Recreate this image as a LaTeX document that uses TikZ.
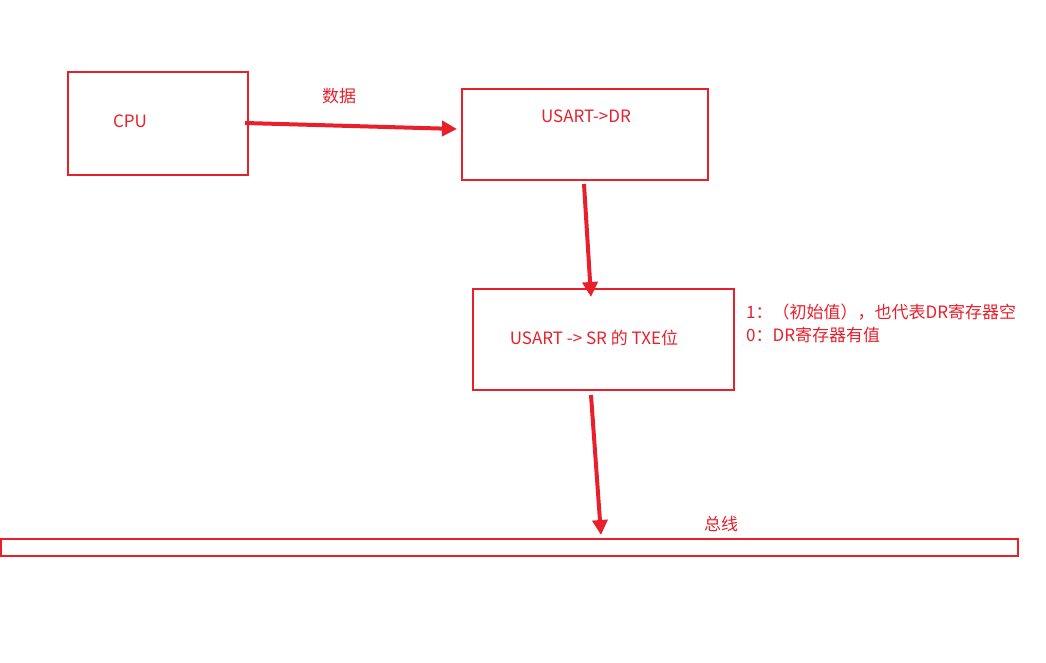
\documentclass[tikz,border=0pt]{standalone}
\usepackage{fontspec}
\setmainfont{Noto Sans CJK SC}
\usetikzlibrary{arrows.meta}
\definecolor{rd}{RGB}{232,32,44}
\begin{document}
\begin{tikzpicture}[x=1pt,y=-1pt,
  box/.style={draw=rd,line width=1.5pt},
  lbl/.style={text=rd,font=\fontsize{17}{20}\selectfont,inner sep=0},
  arr/.style={draw=rd,line width=4pt,-{Triangle[length=15pt,width=15pt]}}]
\useasboundingbox (0,0) rectangle (1046,663);
\draw[box] (68,72) rectangle (248,175);
\draw[box] (462,89) rectangle (708,180);
\draw[box] (473,289) rectangle (734,390);
\draw[box] (1,539) rectangle (1018,556);
\node[lbl] (cpu) at (130,121) {CPU};
\node[lbl] (dr) at (586,116) {USART->DR};
\node[lbl] (sr) at (594,338) {USART -> SR 的 TXE位};
\node[lbl] (bus) at (721,524) {总线};
\node[lbl] (data) at (339,96) {数据};
\node[lbl,anchor=west] (n1) at (746,312) {1：（初始值），也代表DR寄存器空};
\node[lbl,anchor=west] (n0) at (746,335) {0：DR寄存器有值};
\coordinate (a1) at (245,123); \coordinate (a2) at (457,129);
\coordinate (b1) at (584,184); \coordinate (b2) at (591,297);
\coordinate (c1) at (591,395); \coordinate (c2) at (601,535);
\draw[arr] (a1) -- (a2);
\draw[arr] (b1) -- (b2);
\draw[arr] (c1) -- (c2);
\end{tikzpicture}
\end{document}
